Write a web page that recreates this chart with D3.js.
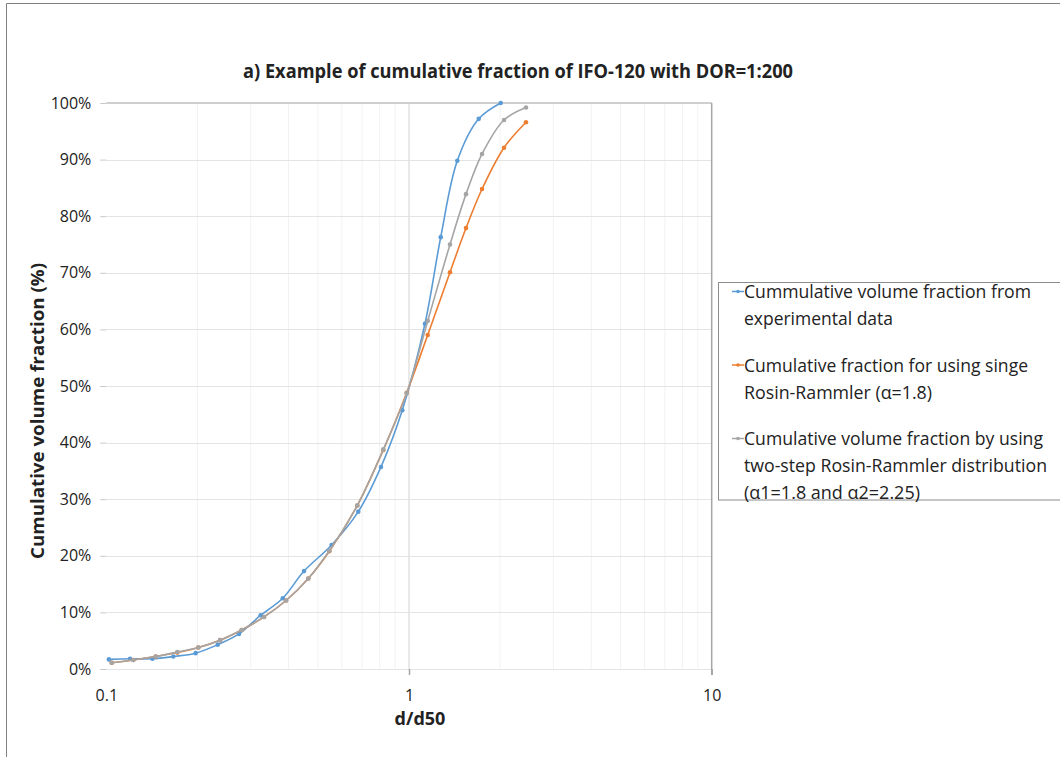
<!DOCTYPE html>
<html>
<head>
<meta charset="utf-8">
<script src="https://cdn.jsdelivr.net/npm/d3@7"></script>
<style>
  html, body { margin: 0; padding: 0; background: #fff; }
  svg { display: block; }
  text { font-family: "Open Sans", "Noto Sans", sans-serif; fill: #222; }
</style>
</head>
<body>
<svg id="chart" width="1060" height="757"></svg>
<script>
// Normalised diameter d/d50 for the measured sample
const expD = [0.102, 0.1198, 0.142, 0.1665, 0.1973, 0.2334, 0.2744, 0.3236, 0.3828, 0.450,
              0.555, 0.680, 0.808, 0.950, 1.129, 1.273, 1.444, 1.700, 2.009];
// Measured cumulative volume fraction (%)
const expF = [1.7, 1.8, 1.8, 2.2, 2.8, 4.3, 6.2, 9.5, 12.5, 17.3,
              21.9, 27.8, 35.7, 45.7, 61.0, 76.3, 89.8, 97.2, 100];

// Diameters used for the fitted distributions
const modelD = [0.1042, 0.1228, 0.1456, 0.1717, 0.2014, 0.2376, 0.280, 0.332, 0.3925, 0.465,
                0.5455, 0.675, 0.8225, 0.9826, 1.153, 1.366, 1.543, 1.743, 2.060, 2.435];
// Single Rosin-Rammler fit, alpha = 1.8 (%)
const singleF = [1.1, 1.6, 2.2, 2.9, 3.8, 5.1, 6.9, 9.2, 12.1, 16.0,
                 20.8, 28.9, 38.7, 48.8, 59.0, 70.1, 77.9, 84.8, 92.1, 96.6];
// Two-step Rosin-Rammler fit, alpha1 = 1.8, alpha2 = 2.25 (%)
const twoStepF = [1.1, 1.6, 2.2, 3.0, 3.8, 5.1, 6.9, 9.2, 12.1, 16.0,
                  20.9, 28.9, 38.8, 48.7, 61.5, 75.0, 83.9, 91.0, 97.0, 99.2];

const xTicks = [0.1, 1, 10];
const xTickLabels = ["0.1", "1", "10"];
const yTicks = [0, 10, 20, 30, 40, 50, 60, 70, 80, 90, 100];

const seriesNames = [
  ["Cummulative volume fraction from", "experimental data"],
  ["Cumulative fraction for using singe", "Rosin-Rammler (α=1.8)"],
  ["Cumulative volume fraction by using", "two-step Rosin-Rammler distribution", "(α1=1.8 and α2=2.25)"]
];
const colors = ["#5b9bd5", "#ed7d31", "#a5a5a5"];

const series = [
  { d: expD, f: expF },
  { d: modelD, f: singleF },
  { d: modelD, f: twoStepF }
];

const svg = d3.select("#chart");

// outer frame of the chart object
svg.append("path")
  .attr("d", "M6.5,757 L6.5,3.5 L1060,3.5")
  .attr("fill", "none").attr("stroke", "#808080").attr("stroke-width", 1);

const x = d3.scaleLog().domain([0.1, 10]).range([106.3, 711.7]);
const y = d3.scaleLinear().domain([0, 100]).range([669, 103]);

const grid = svg.append("g");
// minor vertical gridlines
const minor = [];
[0.1, 1].forEach(dec => { for (let k = 2; k <= 9; k++) minor.push(dec * k); });
grid.selectAll("line.minor").data(minor).join("line")
  .attr("class", "minor")
  .attr("x1", d => x(d)).attr("x2", d => x(d))
  .attr("y1", y(100)).attr("y2", y(0))
  .attr("stroke", "#f2f2f2").attr("stroke-width", 1);
// horizontal gridlines
grid.selectAll("line.h").data(yTicks.filter(v => v < 100)).join("line")
  .attr("class", "h")
  .attr("x1", x(0.1)).attr("x2", x(10))
  .attr("y1", d => Math.round(y(d)) + 0.5).attr("y2", d => Math.round(y(d)) + 0.5)
  .attr("stroke", "#e4e4e4").attr("stroke-width", 1);
// major vertical gridline at 1
grid.append("line")
  .attr("x1", x(1)).attr("x2", x(1))
  .attr("y1", y(100)).attr("y2", y(0))
  .attr("stroke", "#e2e2e2").attr("stroke-width", 1.5);
// top border and right axis line
grid.append("line")
  .attr("x1", x(0.1)).attr("x2", x(10))
  .attr("y1", y(100)).attr("y2", y(100))
  .attr("stroke", "#bfbfbf").attr("stroke-width", 1.5);
grid.append("line")
  .attr("x1", x(10)).attr("x2", x(10))
  .attr("y1", y(100)).attr("y2", y(0) + 6)
  .attr("stroke", "#a6a6a6").attr("stroke-width", 1.5);

// x axis: tick marks below the plot and labels
const xAxis = d3.axisBottom(x).tickValues(xTicks)
  .tickFormat((d, i) => xTickLabels[i]).tickSize(6).tickPadding(15);
const gx = svg.append("g").attr("transform", `translate(0,${y(0)})`).call(xAxis);
gx.select(".domain").remove();
gx.selectAll(".tick line").attr("stroke", (d) => d === 0.1 ? "none" : "#a6a6a6").attr("stroke-width", 1.5);
gx.selectAll(".tick text").attr("font-size", 16).attr("fill", "#333")
  .attr("font-family", "Open Sans, sans-serif");

// y axis: short tick marks and percentage labels
const yAxis = d3.axisLeft(y).tickValues(yTicks)
  .tickFormat(d => d + "%").tickSize(6).tickPadding(9);
const gy = svg.append("g").attr("transform", `translate(${x(0.1)},0)`).call(yAxis);
gy.select(".domain").remove();
gy.selectAll(".tick line").attr("stroke", "#c8c8c8");
gy.selectAll(".tick text").attr("font-size", 16).attr("fill", "#333")
  .attr("font-family", "Open Sans, sans-serif");

// series lines (smoothed) and markers
const line = d3.line().curve(d3.curveCatmullRom.alpha(0.5));
series.forEach((s, i) => {
  const pts = s.d.map((d, j) => [x(d), y(s.f[j])]);
  svg.append("path")
    .attr("d", line(pts))
    .attr("fill", "none")
    .attr("stroke", colors[i])
    .attr("stroke-width", 1.6);
  svg.append("g").selectAll("circle").data(pts).join("circle")
    .attr("cx", p => p[0]).attr("cy", p => p[1]).attr("r", 2.3)
    .attr("fill", colors[i]);
});

// title
svg.append("text")
  .attr("x", 518).attr("y", 78)
  .attr("text-anchor", "middle")
  .attr("font-size", 20).attr("font-weight", "bold")
  .attr("textLength", 550).attr("lengthAdjust", "spacingAndGlyphs")
  .text("a) Example of cumulative fraction of IFO-120 with DOR=1:200");

// axis titles
svg.append("text")
  .attr("transform", "translate(44,411) rotate(-90)")
  .attr("text-anchor", "middle")
  .attr("font-size", 18).attr("font-weight", "bold")
  .attr("textLength", 296).attr("lengthAdjust", "spacingAndGlyphs")
  .text("Cumulative volume fraction (%)");
svg.append("text")
  .attr("x", 420).attr("y", 725)
  .attr("text-anchor", "middle")
  .attr("font-size", 18).attr("font-weight", "bold")
  .text("d/d50");

// legend
const legend = svg.append("g");
legend.append("rect")
  .attr("x", 718.5).attr("y", 282.5).attr("width", 360).attr("height", 217.5)
  .attr("fill", "#fff").attr("stroke", "#8c8c8c").attr("stroke-width", 1);
const rowStart = [298, 371.5, 445];
const lineGap = 27;
const textWidths = [[287, 149], [284, 188], [299, 303, 176]];
seriesNames.forEach((lines, i) => {
  const cy = rowStart[i] - 6.5;
  legend.append("line")
    .attr("x1", 732).attr("x2", 744).attr("y1", cy).attr("y2", cy)
    .attr("stroke", colors[i]).attr("stroke-width", 1.5);
  legend.append("circle").attr("cx", 738).attr("cy", cy).attr("r", 1.8).attr("fill", colors[i]);
  lines.forEach((t, k) => {
    legend.append("text")
      .attr("x", 744).attr("y", rowStart[i] + k * lineGap)
      .attr("font-size", 18.5).attr("fill", "#1a1a1a")
      .attr("textLength", textWidths[i][k]).attr("lengthAdjust", "spacingAndGlyphs")
      .text(t);
  });
});
</script>
</body>
</html>
